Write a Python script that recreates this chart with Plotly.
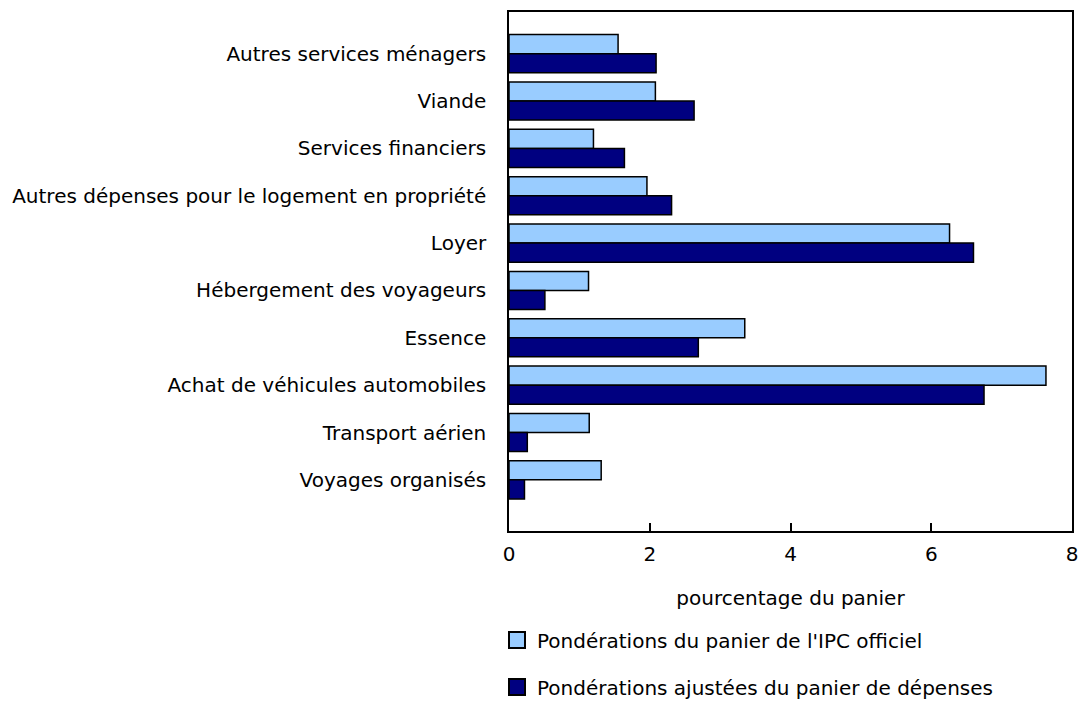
import plotly.graph_objects as go

categories = [
    "Autres services ménagers",
    "Viande",
    "Services financiers",
    "Autres dépenses pour le logement en propriété",
    "Loyer",
    "Hébergement des voyageurs",
    "Essence",
    "Achat de véhicules automobiles",
    "Transport aérien",
    "Voyages organisés",
]
official = [1.55, 2.08, 1.20, 1.96, 6.26, 1.13, 3.35, 7.63, 1.14, 1.31]
adjusted = [2.09, 2.63, 1.64, 2.31, 6.60, 0.51, 2.69, 6.75, 0.26, 0.22]
series_names = [
    "Pondérations du panier de l'IPC officiel",
    "Pondérations ajustées du panier de dépenses",
]
series_colors = ["#99CCFF", "#000080"]
x_ticks = [0, 2, 4, 6, 8]
x_title = "pourcentage du panier"

FONT = "DejaVu Sans"
FS = 20

fig = go.Figure()
for vals, name, col, grp in zip([official, adjusted], series_names, series_colors, ["a", "b"]):
    fig.add_trace(go.Bar(
        y=categories, x=vals, orientation="h", name=name,
        marker=dict(color=col, line=dict(color="#000000", width=1.5)),
        legendgroup=grp, showlegend=False,
    ))
# legend entries with larger square swatches
for name, col, grp in zip(series_names, series_colors, ["a", "b"]):
    fig.add_trace(go.Scatter(
        x=[None], y=[None], mode="markers", name=name, legendgroup=grp,
        marker=dict(symbol="square", size=16, color=col,
                    line=dict(color="#000000", width=2)),
        showlegend=True, hoverinfo="skip",
    ))

fig.update_layout(
    width=1079, height=697,
    margin=dict(l=501, r=15, t=4, b=174, autoexpand=False),
    paper_bgcolor="white", plot_bgcolor="white",
    barmode="group", bargap=0.195, bargroupgap=0,
    font=dict(family=FONT, size=FS, color="#000000"),
    showlegend=True,
    legend=dict(
        orientation="v", x=-0.0213, xanchor="left", y=-0.1723, yanchor="top",
        traceorder="grouped", tracegroupgap=18, itemsizing="trace",
        font=dict(family=FONT, size=FS, color="#000000"),
        bgcolor="rgba(0,0,0,0)",
    ),
    xaxis=dict(
        range=[0, 8], tickvals=x_ticks, ticktext=[str(t) for t in x_ticks],
        showgrid=False, zeroline=False,
        showline=True, linecolor="#000000", linewidth=1.5, mirror=True,
        ticks="inside", ticklen=8, tickcolor="#000000", tickwidth=1.5,
        ticklabelstandoff=4,
        title=dict(text=x_title, standoff=26, font=dict(size=FS)),
        tickfont=dict(size=FS),
    ),
    yaxis=dict(
        type="category", categoryorder="array", categoryarray=categories,
        range=[10.08, -0.88],
        showgrid=False, zeroline=False,
        showline=True, linecolor="#000000", linewidth=1.5, mirror=True,
        ticks="", ticklabelstandoff=17,
        tickfont=dict(size=FS),
    ),
)

fig.write_html("out.html")
